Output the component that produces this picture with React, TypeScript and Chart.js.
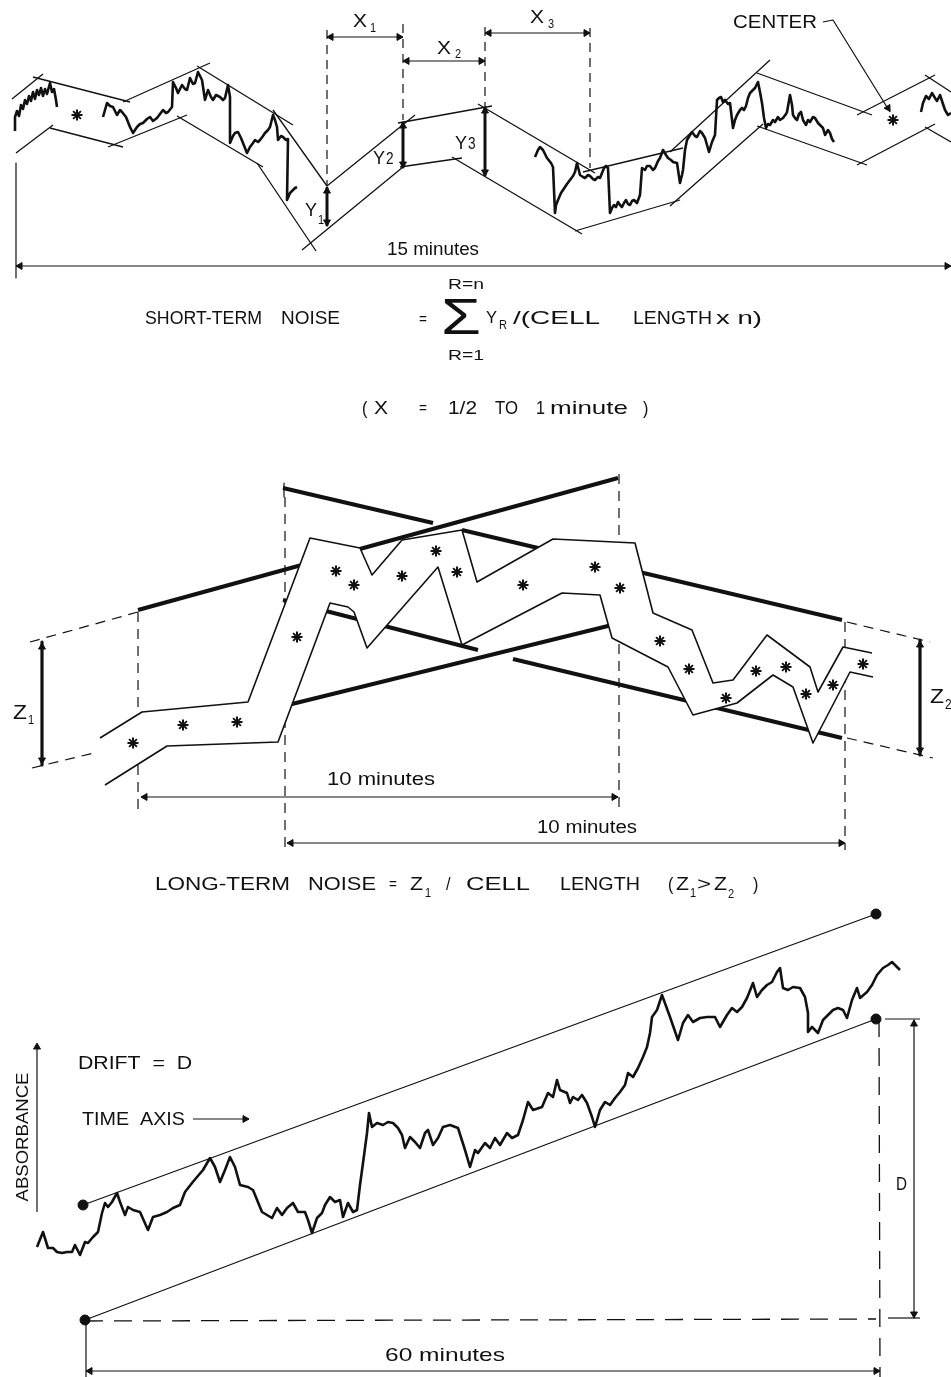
import React, { useEffect, useRef } from "react";
import { Chart, registerables } from "chart.js";

Chart.register(...registerables);

type P = [number, number];
type T = { t: string; x: number; y: number; s?: number; w?: number; r?: number };

const INK = "#111";
const FONT = '"Liberation Sans Narrow", "Liberation Sans", "DejaVu Sans", sans-serif';

// ---------------- TOP PANEL: short-term noise ----------------
const topUpperEdges: P[][] = [
  [[12, 99], [43, 74]],
  [[33, 77], [130, 102]],
  [[123, 102], [210, 63]],
  [[197, 66], [293, 125]],
  [[273, 110], [327, 186]],
  [[327, 186], [415, 115]],
  [[398, 123], [492, 106]],
  [[478, 104], [595, 173]],
  [[583, 172], [683, 148]],
  [[670, 152], [770, 60]],
  [[757, 73], [872, 115]],
  [[857, 115], [935, 75]],
  [[925, 75], [951, 92]],
];
const topLowerEdges: P[][] = [
  [[16, 153], [53, 125]],
  [[50, 128], [123, 147]],
  [[108, 147], [187, 115]],
  [[177, 116], [263, 167]],
  [[257, 163], [316, 251]],
  [[302, 250], [403, 167]],
  [[400, 167], [462, 158]],
  [[452, 157], [582, 234]],
  [[575, 231], [680, 200]],
  [[670, 206], [763, 124]],
  [[757, 126], [867, 165]],
  [[857, 165], [935, 124]],
  [[925, 127], [951, 142]],
];
const topTrace0: P[] = [[15,131],[15,117],[17,111],[19,116],[21,105],[23,109],[25,100],[27,104],[29,96],[31,101],[33,92],[35,99],[37,90],[39,95],[41,88],[43,96],[45,89],[47,94],[50,83],[52,92],[54,89],[56,100],[57,107]];
const topTrace1: P[] = [[103,117],[107,103],[110,106],[113,107],[117,115],[120,110],[122,112],[126,117],[130,127],[133,133],[137,127],[140,124],[143,123],[147,119],[150,117],[153,121],[157,118],[160,114],[163,110],[166,113],[168,112],[172,107],[173,82],[176,88],[178,93],[182,85],[185,89],[187,90],[190,78],[193,84],[195,83],[198,72],[200,76],[202,80],[205,100],[208,90],[211,97],[213,100],[216,95],[220,97],[223,100],[225,98],[228,85],[230,97],[230,143],[233,136],[235,133],[238,132],[241,138],[243,143],[247,153],[250,147],[253,143],[255,140],[258,142],[260,140],[263,136],[265,133],[268,130],[270,127],[273,115],[275,120],[277,127],[278,140],[281,136],[283,137],[286,140],[288,139],[287,200],[290,193],[293,190],[295,188],[297,187]];
const topTrace2: P[] = [[535,157],[538,150],[540,147],[543,150],[547,158],[551,163],[553,167],[555,213],[556,205],[558,200],[561,193],[563,190],[567,184],[570,180],[573,176],[575,172],[577,163],[580,175],[583,177],[585,178],[588,175],[590,176],[593,179],[595,180],[598,177],[600,178],[604,168],[606,166],[608,168],[610,213],[612,208],[614,205],[616,207],[618,202],[620,205],[622,207],[624,203],[626,200],[628,204],[630,205],[632,201],[634,200],[637,203],[640,195],[642,168],[645,170],[647,166],[650,166],[653,170],[655,168],[658,161],[660,158],[663,150],[666,155],[668,158],[671,160],[673,162],[677,163],[680,183],[682,175],[683,170],[685,150],[687,140],[690,135],[692,132],[695,136],[697,137],[700,131],[702,133],[705,138],[709,152],[712,142],[715,135],[717,100],[719,98],[721,97],[723,102],[725,100],[728,104],[730,103],[733,128],[735,120],[737,115],[740,110],[742,108],[744,110],[746,106],[748,98],[750,93],[753,90],[755,88],[758,82],[760,92],[762,103],[764,118],[766,128],[768,124],[770,125],[773,120],[775,122],[778,117],[780,120],[783,118],[786,114],[787,112],[790,95],[792,105],[793,115],[795,118],[797,120],[799,114],[801,112],[803,120],[806,125],[808,120],[810,122],[813,117],[815,118],[818,123],[820,125],[823,128],[825,135],[828,130],[830,133],[832,139],[834,142]];
const topTrace3: P[] = [[921,112],[923,103],[926,96],[929,99],[932,93],[935,98],[937,101],[940,95],[943,104],[945,110],[948,115],[951,113]];
const topStars: P[] = [[77, 115], [893, 120]];
const topThin: P[][] = [
  [[327, 37], [403, 37]],
  [[403, 61], [485, 61]],
  [[485, 33], [590, 33]],
  [[16, 266], [951, 266]],
  [[16, 163], [16, 278]],
  [[823, 22], [833, 20], [890, 112]],
];
const topDashed: P[][] = [
  [[327, 30], [327, 186]],
  [[403, 24], [403, 120]],
  [[485, 27], [485, 107]],
  [[590, 28], [590, 168]],
];
const topThick: P[][] = [
  [[327, 188], [327, 225]],
  [[403, 123], [403, 167]],
  [[485, 108], [485, 175]],
];

// ---------------- MIDDLE PANEL: long-term noise ----------------
const ribbonUpper: P[] = [[100,738],[142,712],[248,702],[310,538],[360,548],[372,575],[402,540],[462,530],[477,582],[553,539],[635,543],[653,613],[692,630],[713,683],[733,680],[767,635],[810,667],[818,692],[843,647],[872,653]];
const ribbonLower: P[] = [[105,785],[167,746],[278,742],[330,603],[348,607],[354,612],[367,648],[438,567],[462,645],[562,593],[600,595],[612,638],[668,667],[693,715],[737,703],[773,675],[793,687],[813,743],[850,672],[873,677]];
const midStars: P[] = [[133,743],[183,725],[237,722],[297,637],[336,571],[354,585],[402,576],[436,551],[457,572],[523,585],[595,567],[620,588],[660,641],[689,669],[726,698],[756,671],[786,667],[806,694],[833,685],[863,664]];
const midThick: P[][] = [
  [[138, 610], [618, 478]],
  [[283, 488], [433, 523]],
  [[462, 530], [842, 620]],
  [[283, 600], [478, 650]],
  [[513, 659], [842, 738]],
  [[138, 742], [612, 625]],
];
const midArrows: P[][] = [
  [[42, 642], [42, 765]],
  [[920, 640], [920, 755]],
];
const midThin: P[][] = [
  [[141, 797], [618, 797]],
  [[287, 843], [845, 843]],
  [[284, 483], [284, 497]],
];
const midDashed: P[][] = [
  [[138, 612], [138, 815]],
  [[285, 497], [285, 852]],
  [[619, 474], [619, 808]],
  [[845, 622], [845, 850]],
  [[30, 642], [138, 612]],
  [[32, 768], [98, 752]],
  [[847, 622], [930, 642]],
  [[847, 738], [933, 758]],
];

// ---------------- BOTTOM PANEL: drift ----------------
const driftTrace: P[] = [[37,1247],[43,1232],[48,1248],[53,1248],[57,1252],[62,1253],[67,1252],[72,1252],[75,1245],[80,1255],[85,1242],[88,1243],[93,1237],[98,1232],[102,1213],[105,1203],[108,1207],[112,1202],[117,1193],[120,1202],[125,1215],[128,1207],[133,1210],[140,1212],[148,1230],[153,1217],[160,1215],[167,1212],[173,1208],[180,1205],[185,1192],[192,1183],[197,1177],[203,1170],[210,1158],[215,1167],[220,1182],[225,1170],[230,1157],[235,1167],[240,1185],[248,1187],[253,1190],[262,1212],[267,1215],[272,1218],[277,1208],[282,1215],[287,1208],[293,1203],[298,1212],[305,1212],[308,1220],[312,1233],[317,1218],[322,1213],[325,1205],[330,1197],[335,1202],[340,1200],[343,1217],[348,1203],[353,1212],[357,1210],[360,1185],[363,1163],[367,1133],[369,1113],[372,1127],[377,1123],[383,1125],[388,1122],[393,1123],[398,1128],[402,1135],[405,1148],[410,1137],[415,1142],[420,1148],[425,1133],[428,1130],[433,1145],[438,1138],[443,1127],[450,1125],[458,1128],[465,1150],[470,1167],[475,1150],[478,1153],[485,1143],[490,1148],[495,1138],[500,1145],[507,1133],[512,1138],[518,1135],[523,1120],[528,1102],[533,1110],[542,1107],[548,1093],[553,1097],[557,1080],[560,1090],[567,1093],[570,1103],[573,1097],[578,1100],[582,1095],[587,1103],[592,1117],[595,1127],[600,1110],[605,1102],[610,1105],[615,1098],[620,1092],[625,1085],[628,1073],[633,1077],[638,1068],[643,1057],[647,1047],[650,1033],[652,1017],[657,1010],[662,995],[670,1017],[678,1040],[683,1023],[688,1015],[693,1022],[700,1018],[707,1017],[715,1017],[720,1027],[727,1015],[732,1008],[737,1012],[742,1007],[747,998],[753,983],[757,997],[762,990],[767,985],[772,982],[777,972],[780,968],[783,988],[788,990],[793,987],[800,988],[805,997],[808,1013],[808,1032],[812,1027],[818,1033],[823,1020],[828,1015],[833,1010],[838,1008],[843,1010],[847,1018],[852,1000],[857,988],[860,998],[867,992],[872,985],[877,975],[883,968],[888,965],[892,962],[897,967],[900,970]];
const driftBounds: P[][] = [
  [[83, 1205], [876, 914]],
  [[85, 1320], [876, 1019]],
];
const driftDots: P[] = [[83, 1205], [85, 1320], [876, 914], [876, 1019]];
const botThin: P[][] = [
  [[37, 1212], [37, 1045]],
  [[193, 1119], [249, 1119]],
  [[885, 1019], [920, 1019]],
  [[888, 1318], [920, 1318]],
  [[914, 1020], [914, 1318]],
  [[86, 1371], [880, 1371]],
  [[86, 1322], [86, 1377]],
];
const botDashed: P[][] = [
  [[85, 1321], [876, 1319]],
  [[879, 1019], [880, 1377]],
];

// arrowheads: x, y, rotation (deg, 0 = up)
const arrowHeads: [number, number, number][] = [
  [331, 37, 270], [399, 37, 90],
  [407, 61, 270], [481, 61, 90],
  [489, 33, 270], [586, 33, 90],
  [327, 191, 0], [327, 222, 180],
  [403, 126, 0], [403, 164, 180],
  [485, 111, 0], [485, 172, 180],
  [20, 266, 270], [947, 266, 90],
  [888, 108, 148],
  [42, 647, 0], [42, 760, 180],
  [920, 645, 0], [920, 750, 180],
  [145, 797, 270], [614, 797, 90],
  [291, 843, 270], [841, 843, 90],
  [37, 1047, 0],
  [245, 1119, 90],
  [914, 1024, 0], [914, 1314, 180],
  [90, 1371, 270], [876, 1371, 90],
];

// text labels
const labels: T[] = [
  { t: "X", x: 353, y: 22, s: 19, w: 14 }, { t: "1", x: 370, y: 28, s: 13 },
  { t: "X", x: 437, y: 49, s: 19, w: 14 }, { t: "2", x: 455, y: 54, s: 13 },
  { t: "X", x: 530, y: 18, s: 19, w: 14 }, { t: "3", x: 548, y: 24, s: 13 },
  { t: "Y", x: 305, y: 211, s: 19, w: 12 }, { t: "1", x: 318, y: 220, s: 13 },
  { t: "Y", x: 373, y: 159, s: 18, w: 12 }, { t: "2", x: 386, y: 160, s: 16 },
  { t: "Y", x: 455, y: 144, s: 18, w: 12 }, { t: "3", x: 468, y: 145, s: 16 },
  { t: "CENTER", x: 733, y: 23, s: 18, w: 84 },
  { t: "15 minutes", x: 387, y: 250, s: 18, w: 92 },
  { t: "SHORT-TERM", x: 145, y: 319, s: 19, w: 117 },
  { t: "NOISE", x: 281, y: 319, s: 19, w: 59 },
  { t: "=", x: 419, y: 320, s: 16 },
  { t: "Σ", x: 441, y: 320, s: 50, w: 40 },
  { t: "R=n", x: 448, y: 285, s: 15, w: 36 },
  { t: "R=1", x: 448, y: 356, s: 15, w: 36 },
  { t: "Y", x: 486, y: 318, s: 17, w: 11 }, { t: "R", x: 499, y: 325, s: 13 },
  { t: "/(CELL", x: 513, y: 319, s: 19, w: 87 },
  { t: "LENGTH", x: 633, y: 319, s: 19, w: 79 },
  { t: "x n)", x: 716, y: 319, s: 19, w: 46 },
  { t: "(", x: 362, y: 409, s: 19 }, { t: "X", x: 374, y: 409, s: 19, w: 14 },
  { t: "=", x: 419, y: 409, s: 16 }, { t: "1/2", x: 448, y: 409, s: 19, w: 29 },
  { t: "TO", x: 495, y: 409, s: 19, w: 23 }, { t: "1", x: 536, y: 409, s: 19 },
  { t: "minute", x: 550, y: 409, s: 19, w: 78 }, { t: ")", x: 643, y: 409, s: 19 },
  { t: "10 minutes", x: 327, y: 780, s: 18, w: 108 },
  { t: "10 minutes", x: 537, y: 828, s: 18, w: 100 },
  { t: "Z", x: 13, y: 713, s: 20, w: 14 }, { t: "1", x: 28, y: 720, s: 13 },
  { t: "Z", x: 930, y: 697, s: 20, w: 14 }, { t: "2", x: 945, y: 705, s: 14 },
  { t: "LONG-TERM", x: 155, y: 885, s: 19, w: 135 },
  { t: "NOISE", x: 308, y: 885, s: 19, w: 68 },
  { t: "=", x: 389, y: 885, s: 16 },
  { t: "Z", x: 410, y: 885, s: 19, w: 13 }, { t: "1", x: 425, y: 893, s: 13 },
  { t: "/", x: 446, y: 885, s: 19 },
  { t: "CELL", x: 466, y: 885, s: 19, w: 64 },
  { t: "LENGTH", x: 560, y: 885, s: 19, w: 80 },
  { t: "(", x: 668, y: 885, s: 19 }, { t: "Z", x: 676, y: 885, s: 19, w: 13 },
  { t: "1", x: 690, y: 893, s: 13 }, { t: ">", x: 697, y: 885, s: 19, w: 14 },
  { t: "Z", x: 714, y: 885, s: 19, w: 13 }, { t: "2", x: 728, y: 894, s: 13 },
  { t: ")", x: 753, y: 885, s: 19 },
  { t: "DRIFT  =  D", x: 78, y: 1064, s: 19, w: 114 },
  { t: "TIME  AXIS", x: 82, y: 1120, s: 19, w: 103 },
  { t: "ABSORBANCE", x: 23, y: 1137, s: 17, w: 129, r: -90 },
  { t: "D", x: 896, y: 1185, s: 19, w: 11 },
  { t: "60 minutes", x: 385, y: 1356, s: 19, w: 120 },
];

const pts = (a: P[]) => a.map(([x, y]) => ({ x, y }));

function buildDatasets() {
  const ds: any[] = [];
  const addLine = (a: P[], w: number, order: number, dash: number[] = [], extra: any = {}) =>
    ds.push({
      data: pts(a), showLine: true, borderColor: INK, borderWidth: w, borderDash: dash,
      pointRadius: 0, pointHoverRadius: 0, tension: 0, fill: false, order,
      borderJoinStyle: "round", borderCapStyle: "butt", clip: false, ...extra,
    });
  // top panel
  topUpperEdges.forEach((s) => addLine(s, 1.3, 3));
  topLowerEdges.forEach((s) => addLine(s, 1.3, 3));
  [topTrace0, topTrace1, topTrace2, topTrace3].forEach((s) => addLine(s, 2.6, 2));
  topThin.forEach((s) => addLine(s, 1.2, 3));
  topDashed.forEach((s) => addLine(s, 1.2, 3, [9, 6]));
  topThick.forEach((s) => addLine(s, 3, 2));
  // middle panel (under ribbon)
  midThick.forEach((s) => addLine(s, 4, 10));
  midDashed.forEach((s) => addLine(s, 1.2, 10, [10, 7]));
  // ribbon fill
  ds.push({
    data: pts([...ribbonUpper, ...ribbonLower.slice().reverse()]), showLine: true,
    fill: "shape", backgroundColor: "#ffffff", borderColor: "rgba(0,0,0,0)", borderWidth: 0,
    pointRadius: 0, tension: 0, order: 6, clip: false,
  });
  addLine(ribbonUpper, 1.6, 4);
  addLine(ribbonLower, 1.6, 4);
  midArrows.forEach((s) => addLine(s, 3.2, 3));
  midThin.forEach((s) => addLine(s, 1.2, 3));
  // bottom
  driftBounds.forEach((s) => addLine(s, 1.3, 3));
  botThin.forEach((s) => addLine(s, 1.2, 3));
  botDashed.forEach((s) => addLine(s, 1.3, 3, [18, 11]));
  addLine(driftTrace, 2.6, 2);
  // markers
  ds.push({
    data: pts([...topStars, ...midStars]), showLine: false, pointStyle: "star", pointRadius: 5.5,
    borderColor: INK, backgroundColor: INK, borderWidth: 2, order: 0, clip: false,
  });
  ds.push({
    data: pts(driftDots), showLine: false, pointStyle: "circle", pointRadius: 5,
    borderColor: INK, backgroundColor: INK, borderWidth: 1, order: 0, clip: false,
  });
  ds.push({
    data: arrowHeads.map(([x, y]) => ({ x, y })), showLine: false, pointStyle: "triangle",
    pointRadius: 4, pointRotation: arrowHeads.map((a) => a[2]),
    borderColor: INK, backgroundColor: INK, borderWidth: 1, order: 0, clip: false,
  });
  return ds;
}

const bgPlugin = {
  id: "bg",
  beforeDraw(chart: any) {
    const { ctx, width, height } = chart;
    ctx.save();
    ctx.fillStyle = "#ffffff";
    ctx.fillRect(0, 0, width, height);
    ctx.restore();
  },
};

const textPlugin = {
  id: "texts",
  afterDraw(chart: any) {
    const { ctx } = chart;
    const xs = chart.scales.x;
    const ys = chart.scales.y;
    labels.forEach((it) => {
      ctx.save();
      ctx.font = `${it.s ?? 18}px ${FONT}`;
      ctx.fillStyle = INK;
      ctx.textBaseline = "middle";
      ctx.translate(xs.getPixelForValue(it.x), ys.getPixelForValue(it.y));
      if (it.r) ctx.rotate((it.r * Math.PI) / 180);
      const m = ctx.measureText(it.t).width;
      ctx.scale(it.w ? it.w / m : 0.85, 1);
      ctx.textAlign = it.r ? "center" : "left";
      ctx.fillText(it.t, 0, 0);
      ctx.restore();
    });
  },
};

export default function App() {
  const ref = useRef<HTMLCanvasElement | null>(null);
  useEffect(() => {
    if (!ref.current) return;
    const chart = new Chart(ref.current, {
      type: "scatter",
      data: { datasets: buildDatasets() },
      options: {
        animation: false,
        responsive: false,
        devicePixelRatio: 1,
        events: [],
        layout: { padding: 0, autoPadding: false },
        scales: {
          x: { type: "linear", min: 0, max: 951, display: false },
          y: { type: "linear", min: 0, max: 1377, reverse: true, display: false },
        },
        plugins: { legend: { display: false }, tooltip: { enabled: false } },
      },
      plugins: [bgPlugin, textPlugin],
    } as any);
    return () => chart.destroy();
  }, []);
  return (
    <div style={{ position: "absolute", left: 0, top: 0, width: 951, height: 1377, background: "#fff" }}>
      <canvas ref={ref} width={951} height={1377} style={{ display: "block", width: 951, height: 1377 }} />
    </div>
  );
}
